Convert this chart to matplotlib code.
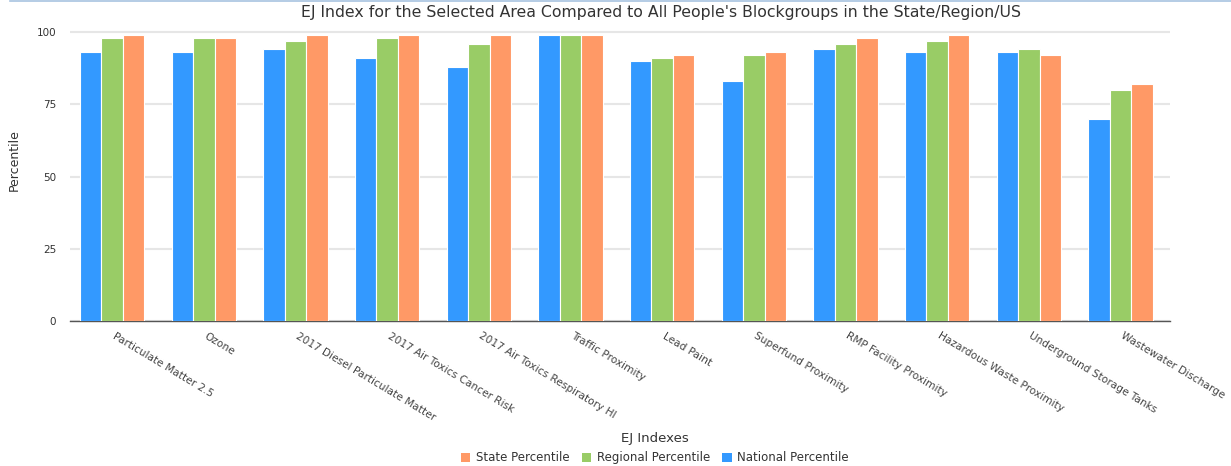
import matplotlib
matplotlib.use("Agg")
import matplotlib.pyplot as plt
import numpy as np
from matplotlib.patches import Patch
from matplotlib.lines import Line2D

categories = ["Particulate Matter 2.5", "Ozone", "2017 Diesel Particulate Matter",
              "2017 Air Toxics Cancer Risk", "2017 Air Toxics Respiratory HI",
              "Traffic Proximity", "Lead Paint", "Superfund Proximity",
              "RMP Facility Proximity", "Hazardous Waste Proximity",
              "Underground Storage Tanks", "Wastewater Discharge"]
national = [93, 93, 94, 91, 88, 99, 90, 83, 94, 93, 93, 70]
regional = [98, 98, 97, 98, 96, 99, 91, 92, 96, 97, 94, 80]
state = [99, 98, 99, 99, 99, 99, 92, 93, 98, 99, 92, 82]
yticks = [0, 25, 50, 75, 100]

c_nat, c_reg, c_sta = "#3399FF", "#99CC66", "#FF9966"

fig = plt.figure(figsize=(12.31, 4.66), dpi=100)
ax = fig.add_axes([70/1231, 1-321/466, 1100/1231, (321-28)/466])

x = np.arange(len(categories))
w = 0.235
ax.bar(x - w - 0.04, national, w, color=c_nat, edgecolor="white", linewidth=0.8, zorder=3)
ax.bar(x - 0.04, regional, w, color=c_reg, edgecolor="white", linewidth=0.8, zorder=3)
ax.bar(x + w - 0.04, state, w, color=c_sta, edgecolor="white", linewidth=0.8, zorder=3)

ax.set_xlim(-0.5, len(categories) - 0.5)
ax.set_ylim(0, 101.4)
ax.set_yticks(yticks)
ax.set_yticklabels([str(v) for v in yticks], fontsize=7.5, color="#333333")
ax.yaxis.grid(True, color="#e6e6e6", linewidth=1.5, zorder=0)
ax.tick_params(axis="y", length=0, pad=10)
ax.set_xticks(x)
ax.set_xticklabels(categories, rotation=-31, ha="left", va="top",
                   rotation_mode="anchor", fontsize=7.6, color="#444444")
ax.tick_params(axis="x", length=0, pad=7)
for s in ["top", "right", "left"]:
    ax.spines[s].set_visible(False)
ax.spines["bottom"].set_color("#555555")
ax.spines["bottom"].set_linewidth(1.0)

ax.set_ylabel("Percentile", fontsize=9, color="#333333")
ax.yaxis.set_label_coords(-0.0445, 0.55)

fig.text(661/1231, 1-13/466, "EJ Index for the Selected Area Compared to All People's Blockgroups in the State/Region/US",
         ha="center", va="center", fontsize=11.3, color="#333333")
fig.add_artist(Line2D([10/1231, 1], [1-1/466, 1-1/466], color="#a8c4e0", linewidth=1.2))

handles = [Patch(facecolor=c_sta, label="State Percentile"),
           Patch(facecolor=c_reg, label="Regional Percentile"),
           Patch(facecolor=c_nat, label="National Percentile")]
leg = fig.legend(handles=handles, loc="center", bbox_to_anchor=(655/1231, 1-448/466),
                 ncol=3, frameon=False, fontsize=8.5, title="EJ Indexes",
                 title_fontsize=9.5, handlelength=0.8, handleheight=0.8,
                 columnspacing=1.0, handletextpad=0.5, labelspacing=0.55)
for t in leg.get_texts():
    t.set_color("#333333")
leg.get_title().set_color("#333333")

fig.savefig("out.png", dpi=100)
